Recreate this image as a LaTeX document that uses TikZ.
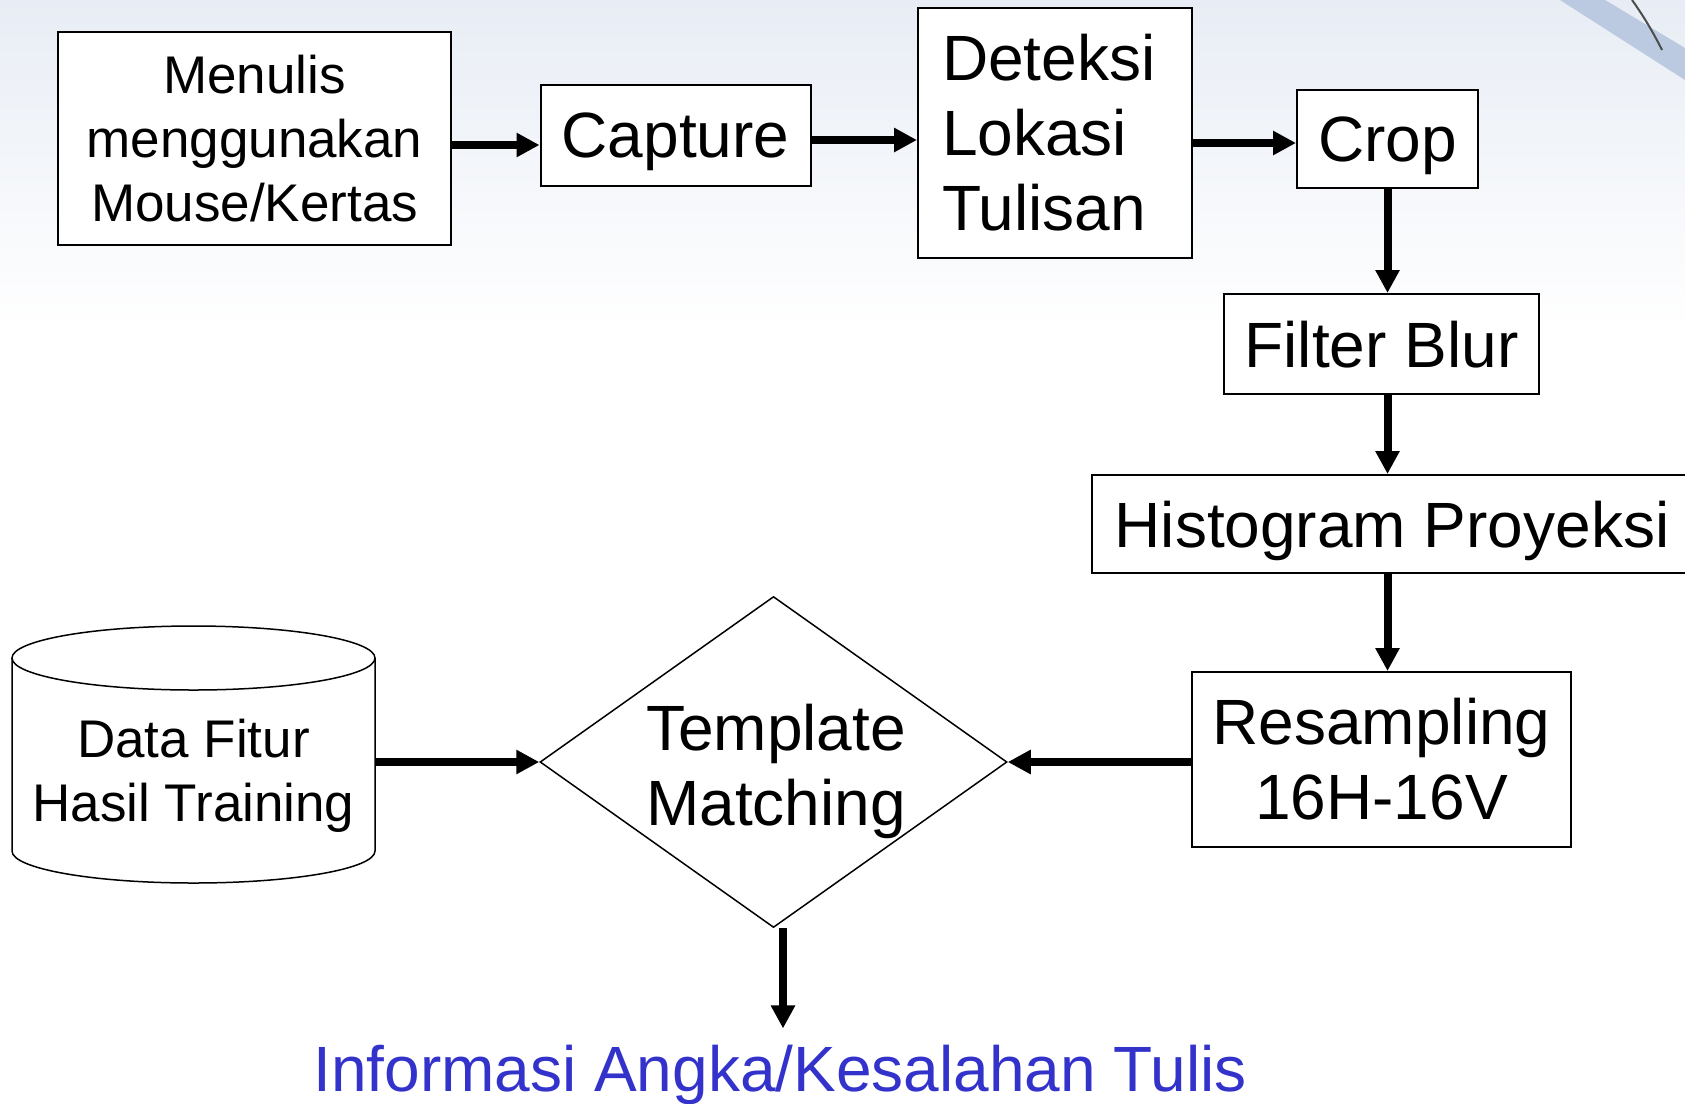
\documentclass[tikz,border=0pt]{standalone}
\usepackage{fontspec}
\setmainfont{Liberation Sans}
\usetikzlibrary{arrows.meta,shapes.geometric}
\definecolor{outblue}{RGB}{51,51,204}
\definecolor{bgtop}{RGB}{232,237,245}
\definecolor{bandblue}{RGB}{165,185,215}
\begin{document}
\begin{tikzpicture}[x=1pt,y={(0pt,-1pt)},
  box/.style={draw, fill=white, line width=2pt, inner sep=0pt, align=center},
  oneline/.style={text depth=0pt},
  big/.style={font=\fontsize{64}{75}\selectfont},
  small/.style={font=\fontsize{53}{64}\selectfont},
  arr/.style={line width=8pt, -{Triangle[length=23pt,width=23pt]}}]
\useasboundingbox (0,0) rectangle (1685,1103);
\fill[white] (0,0) rectangle (1685,1103);
\shade[top color=bgtop, bottom color=white] (0,0) rectangle (1685,330);
% top-right decoration
\fill[bandblue!75] (1560,0) -- (1605,0) -- (1685,48) -- (1685,80) -- cycle;
\draw[black!70, line width=2pt] (1632,0) .. controls (1645,18) and (1655,36) .. (1662,50);

% nodes
\node[box, small, minimum width=393pt, minimum height=213pt] (men) at (254.5,138.5) {Menulis\\menggunakan\\Mouse/Kertas};
\node[box, big, oneline, minimum width=270pt, minimum height=101pt] (cap) at (675.5,135) {Capture};
\node[box, big, align=left, text width=226pt, inner xsep=24pt, minimum height=250pt] (det) at (1055,133) {Deteksi\\Lokasi\\Tulisan};
\node[box, big, oneline, minimum width=181pt, minimum height=98pt] (crop) at (1387.5,139) {Crop};
\node[box, big, oneline, minimum width=315pt, minimum height=100pt] (fil) at (1381.5,344) {Filter Blur};
\node[box, big, oneline, minimum width=600pt, minimum height=98pt] (hist) at (1392,524) {Histogram Proyeksi};
\node[box, big, minimum width=379pt, minimum height=175pt] (res) at (1381.5,759.5) {Resampling\\16H-16V};

\node[draw, diamond, line width=1.5pt, minimum width=467pt, minimum height=331pt, inner sep=0pt] (tm) at (773.5,762) {};
\node[big, align=center] (tmt) at (776,771.5) {Template\\Matching};

% cylinder
\node[minimum width=363pt, minimum height=257pt, inner sep=0pt] (db) at (193.5,754.5) {};
\draw[line width=1.5pt, fill=white] (12,658) -- (12,851) arc[start angle=180, end angle=0, x radius=181.5, y radius=32] -- (375,658);
\draw[line width=1.5pt] (193.5,658) ellipse [x radius=181.5, y radius=32];
\node[small, align=center] (dbt) at (193.5,776) {Data Fitur\\Hasil Training};

\node[font=\fontsize{64}{75}\selectfont, text=outblue, anchor=base, inner sep=0pt] (out) at (780,1091) {Informasi Angka/Kesalahan Tulis};

% connectors
\draw[arr, transform canvas={yshift=-6.5pt}] (men.east) -- (men.east -| cap.west);
\draw[arr, transform canvas={yshift=-5pt}] (cap.east) -- (cap.east -| det.west);
\draw[arr, transform canvas={yshift=-10pt}] (det.east) -- (det.east -| crop.west);
\draw[arr] (crop.south) -- (crop.south |- fil.north);
\draw[arr] (crop.south |- fil.south) -- (crop.south |- hist.north);
\draw[arr] (crop.south |- hist.south) -- (crop.south |- res.north);
\draw[arr] (res.west |- tm.east) -- (tm.east);
\draw[arr] (db.east |- tm.west) -- (tm.west);
\draw[arr, transform canvas={xshift=3pt}] (out.north |- tm.south) -- ([yshift=16pt]out.north);
\end{tikzpicture}
\end{document}
